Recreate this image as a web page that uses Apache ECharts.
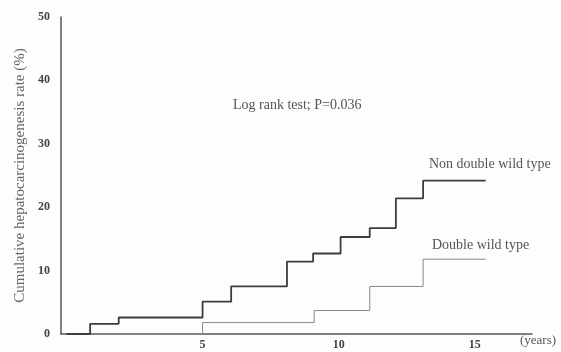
<!DOCTYPE html>
<html>
<head>
<meta charset="utf-8">
<script src="https://cdn.jsdelivr.net/npm/echarts@6/dist/echarts.min.js"></script>
<style>
  html, body { margin: 0; padding: 0; background: #fdfdfc; }
  #chart { width: 561px; height: 352px; }
</style>
</head>
<body>
<div id="chart"></div>
<script>
// Kaplan-Meier style cumulative incidence curves (years vs %)
const nonDoubleTimes = [0, 0.87, 1.92, 5.0, 6.05, 8.1, 9.06, 10.07, 11.14, 12.1, 13.1, 15.4];
const nonDoubleRates = [0, 1.6, 2.6, 5.1, 7.5, 11.4, 12.7, 15.3, 16.7, 21.4, 24.2, 24.2];
const doubleTimes = [0, 5.0, 9.1, 11.14, 13.1, 15.4];
const doubleRates = [0, 1.8, 3.7, 7.5, 11.8, 11.8];
const xTickLabels = [5, 10, 15];
const yTickLabels = [0, 10, 20, 30, 40, 50];

const serif = '"Liberation Serif", "DejaVu Serif", serif';
const zip = (xs, ys) => xs.map((x, i) => [x, ys[i]]);

const chart = echarts.init(document.getElementById('chart'));
chart.setOption({
  backgroundColor: '#fdfdfc',
  animation: false,
  grid: { left: 61, right: 29, top: 17, bottom: 18 },
  xAxis: {
    type: 'value',
    min: -0.2,
    max: 17.1,
    splitLine: { show: false },
    axisTick: { show: false },
    axisLine: { onZero: false, lineStyle: { color: '#555', width: 1.5 } },
    axisLabel: {
      customValues: xTickLabels,
      color: '#444',
      fontFamily: serif,
      fontSize: 12,
      fontWeight: 'bold',
      margin: 5
    }
  },
  yAxis: {
    type: 'value',
    min: 0,
    max: 50,
    splitLine: { show: false },
    axisTick: { show: false },
    axisLine: { show: true, onZero: false, lineStyle: { color: '#555', width: 1.5 } },
    axisLabel: {
      customValues: yTickLabels,
      color: '#444',
      fontFamily: serif,
      fontSize: 12,
      fontWeight: 'bold',
      margin: 11
    },
    name: 'Cumulative hepatocarcinogenesis rate (%)',
    nameLocation: 'middle',
    nameGap: 28,
    nameTextStyle: { color: '#666', fontFamily: serif, fontSize: 15 }
  },
  series: [
    {
      name: 'Double wild type',
      type: 'line',
      step: 'end',
      symbol: 'none',
      data: zip(doubleTimes, doubleRates),
      lineStyle: { color: '#888', width: 1 }
    },
    {
      name: 'Non double wild type',
      type: 'line',
      step: 'end',
      symbol: 'none',
      data: zip(nonDoubleTimes, nonDoubleRates),
      lineStyle: { color: '#3d3d3d', width: 1.8 }
    }
  ],
  graphic: [
    { type: 'text', left: 233, top: 98,
      style: { text: 'Log rank test; P=0.036', fill: '#555', font: '14px ' + serif } },
    { type: 'text', left: 429, top: 157,
      style: { text: 'Non double wild type', fill: '#555', font: '14px ' + serif } },
    { type: 'text', left: 432, top: 238,
      style: { text: 'Double wild type', fill: '#555', font: '14px ' + serif } },
    { type: 'text', left: 520, top: 334,
      style: { text: '(years)', fill: '#555', font: '13px ' + serif } }
  ]
});
</script>
</body>
</html>
